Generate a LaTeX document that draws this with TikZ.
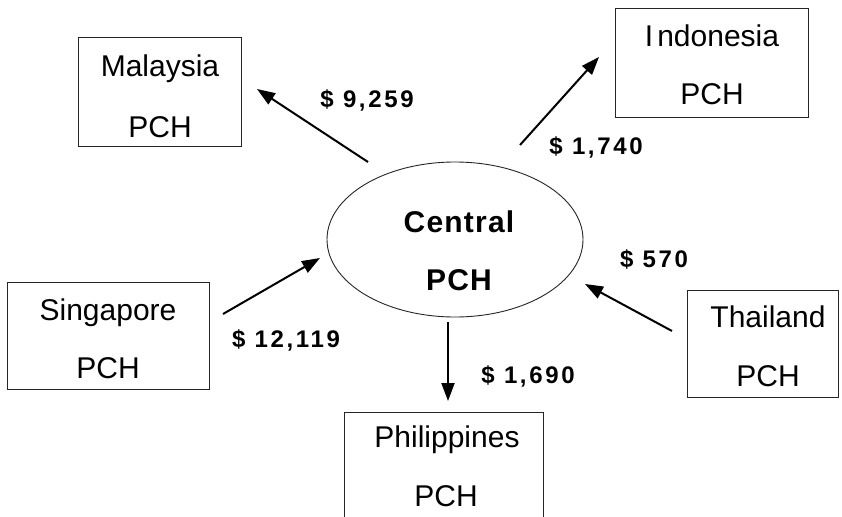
\documentclass[tikz,border=0pt]{standalone}
\usepackage{fontspec}
\setmainfont{Liberation Sans}
\newfontfamily\amtfont[LetterSpace=11]{Liberation Sans}
\newfontfamily\hubfont[LetterSpace=4]{Liberation Sans}
\usetikzlibrary{arrows.meta,shapes.geometric}
\begin{document}
\begin{tikzpicture}[x=1pt,y=-1pt,
  pchbox/.style={draw=black!85, line width=0.9pt, rectangle, inner sep=0pt},
  hub/.style={draw=black!85, line width=0.9pt, ellipse, inner sep=0pt,
    minimum width=256pt, minimum height=155pt},
  boxtext/.style={anchor=base, inner sep=0pt, font=\fontsize{30}{36}\selectfont},
  amount/.style={anchor=base, inner sep=0pt, font=\amtfont\bfseries\fontsize{24}{28}\selectfont},
  hubtext/.style={anchor=base, inner sep=0pt, font=\hubfont\bfseries\fontsize{30}{36}\selectfont},
  flow/.style={line width=2pt, -{Triangle[length=18pt,width=13pt]}},
]
\clip (0,0) rectangle (842,516);
\fill[white] (0,0) rectangle (842,516);

% central clearing house
\node[hub] (cen) at (455,239.5) {};
\node[hubtext] (cenA) at (459,232.5) {Central};
\node[hubtext] (cenB) at (459,290) {PCH};

% national clearing houses
\node[pchbox, minimum width=163pt, minimum height=109pt] (mal) at (159.5,91.5) {};
\node[boxtext] (malA) at (160,77) {Malaysia};
\node[boxtext] (malB) at (160,137) {PCH};

\node[pchbox, minimum width=193pt, minimum height=109pt] (ind) at (711.5,62.5) {};
\node[boxtext] (indA) at (712,47) {I\kern4pt ndonesia};
\node[boxtext] (indB) at (712,105) {PCH};

\node[pchbox, minimum width=202pt, minimum height=107pt] (sin) at (108,335.5) {};
\node[boxtext] (sinA) at (108,320) {Singapore};
\node[boxtext] (sinB) at (108,378) {PCH};

\node[pchbox, minimum width=151pt, minimum height=107pt] (tha) at (762.5,343.5) {};
\node[boxtext] (thaA) at (768,327) {Thailand};
\node[boxtext] (thaB) at (768,386) {PCH};

\node[pchbox, minimum width=199pt, minimum height=110pt] (phi) at (443.5,467) {};
\node[boxtext] (phiA) at (447,447) {Philippines};
\node[boxtext] (phiB) at (446,506) {PCH};

% arrow end points
\coordinate (malT) at (368,162);   \coordinate (malH) at (257,89);
\coordinate (indT) at (520,145);   \coordinate (indH) at (599,57);
\coordinate (sinT) at (223,314);   \coordinate (sinH) at (320,258);
\coordinate (thaT) at (672,331);   \coordinate (thaH) at (585,284);
\coordinate (phiT) at (448,322);   \coordinate (phiH) at (448,401);

\draw[flow] (malT) -- (malH);
\draw[flow] (indT) -- (indH);
\draw[flow] (sinT) -- (sinH);
\draw[flow] (thaT) -- (thaH);
\draw[flow] (phiT) -- (phiH);

% amounts
\node[amount] (amtMal) at (367,107) {\$ 9,259};
\node[amount] (amtInd) at (596,154) {\$ 1,740};
\node[amount] (amtSin) at (286,347) {\$ 12,119};
\node[amount] (amtTha) at (654,267) {\$ 570};
\node[amount] (amtPhi) at (528,383) {\$ 1,690};
\end{tikzpicture}
\end{document}
